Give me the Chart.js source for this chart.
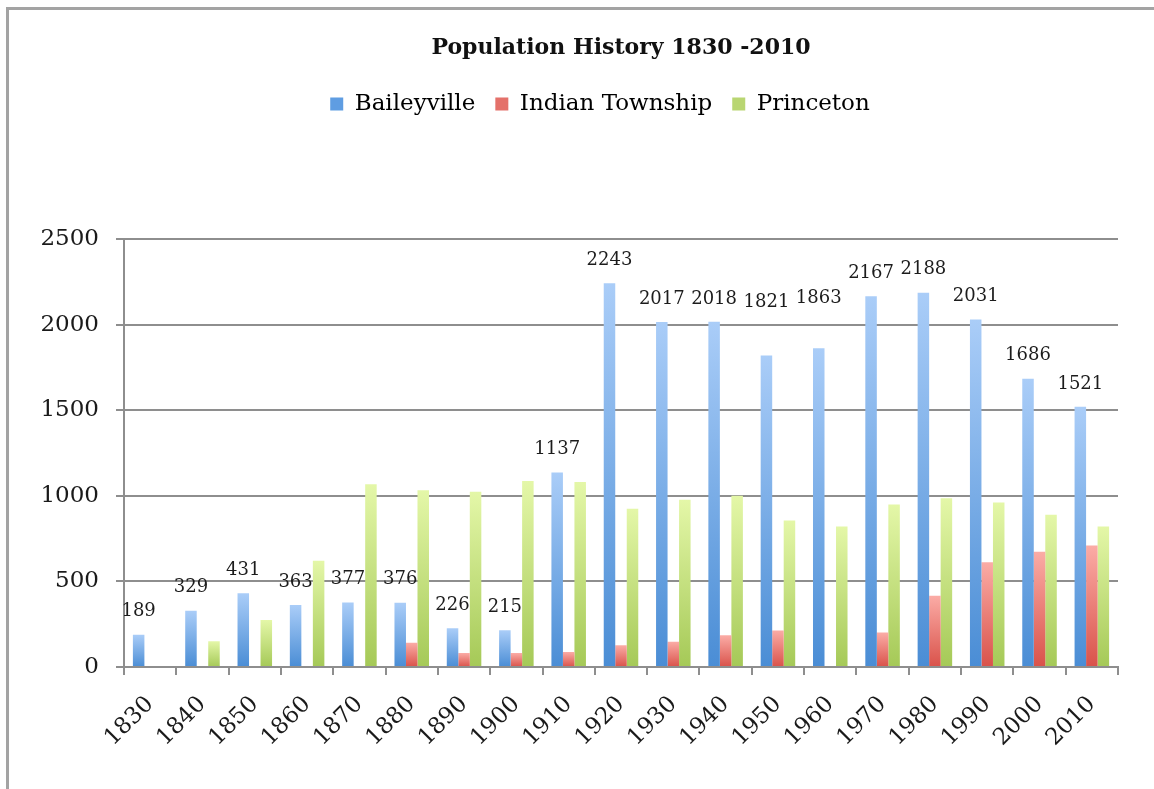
<!DOCTYPE html>
<html>
<head>
<meta charset="utf-8">
<script src="https://cdn.jsdelivr.net/npm/chart.js@4.4.1/dist/chart.umd.min.js"></script>
<style>
    html, body { margin: 0; padding: 0; background: #fff; }
    #wrap { position: relative; width: 1154px; height: 789px; overflow: hidden; }
    #frame {
        position: absolute; left: 6px; top: 7px; right: -4px; bottom: -4px;
        border-top: 3px solid #a3a3a3; border-left: 3px solid #a3a3a3;
        pointer-events: none;
    }
    canvas { position: absolute; left: 0; top: 0; }
</style>
</head>
<body>
<div id="wrap">
    <canvas id="chart" width="1154" height="789"></canvas>
    <div id="frame"></div>
</div>
<script>
// ─── Data ─────────────────────────────────────────────

const decades = ['1830', '1840', '1850', '1860', '1870', '1880', '1890', '1900', '1910', '1920',
                 '1930', '1940', '1950', '1960', '1970', '1980', '1990', '2000', '2010'];

const baileyville    = [189, 329, 431, 363, 377, 376, 226, 215, 1137, 2243,
                        2017, 2018, 1821, 1863, 2167, 2188, 2031, 1686, 1521];
const indianTownship = [null, null, null, null, null, 142, 82, 82, 88, 127,
                        148, 185, 214, null, 201, 417, 613, 674, 711];
const princeton      = [null, 150, 275, 621, 1069, 1034, 1024, 1088, 1082, 925,
                        978, 1001, 857, 822, 950, 987, 962, 890, 822];

const yTicks = [0, 500, 1000, 1500, 2000, 2500];

// ─── Helpers ──────────────────────────────────────────

const FONT = "'DejaVu Serif', serif";
const GRID = '#8e8e8e';

// the 1950 / 1960 labels sit higher than the rest in the original
const labelLift = { 12: 30, 13: 27 };

// each bar gets its own light-top / dark-bottom gradient
function barGradient(top, bottom) {
    return ctx => {
        const chart = ctx.chart;
        if (!chart.chartArea || ctx.type !== 'data' || ctx.raw == null) return bottom;
        const y = chart.scales.y;
        const yTop  = y.getPixelForValue(ctx.raw);
        const yBase = y.getPixelForValue(0);
        if (yBase - yTop < 1) return bottom;
        const g = chart.ctx.createLinearGradient(0, yTop, 0, yBase);
        g.addColorStop(0, top);
        g.addColorStop(1, bottom);
        return g;
    };
}

const legendColors = ['#5f9de2', '#e4716a', '#b9d672'];

// push the plot area down, leaving the empty band under the legend,
// and nudge the legend row so it is centred like the original
const legendSpacer = {
    id: 'legendSpacer',
    beforeInit(chart) {
        const fit = chart.legend.fit;
        chart.legend.fit = function () {
            fit.bind(chart.legend)();
            this.height += 114;
        };
    },
    afterLayout(chart) {
        chart.legend.left = 82;
    },
};

const barValueLabels = {
    id: 'barValueLabels',
    afterDatasetsDraw(chart) {
        const meta = chart.getDatasetMeta(0);
        const c = chart.ctx;
        c.save();
        c.font = `18px ${FONT}`;
        c.fillStyle = '#1c1c1c';
        c.textAlign = 'center';
        c.textBaseline = 'middle';
        meta.data.forEach((bar, i) => {
            c.fillText(String(baileyville[i]), bar.x, bar.y - 23 - (labelLift[i] || 0));
        });
        c.restore();
    },
};

// ─── Chart ────────────────────────────────────────────

new Chart(document.getElementById('chart').getContext('2d'), {
    type: 'bar',
    data: {
        labels: decades,
        datasets: [
            { label: 'Baileyville',     data: baileyville,    backgroundColor: barGradient('#aacdf8', '#4a8dd5') },
            { label: 'Indian Township', data: indianTownship, backgroundColor: barGradient('#fbaca6', '#d9524a') },
            { label: 'Princeton',       data: princeton,      backgroundColor: barGradient('#e4f7a8', '#a5c957') },
        ],
    },
    options: {
        responsive: false,
        animation: false,
        devicePixelRatio: 1,
        datasets: { bar: { categoryPercentage: 0.66, barPercentage: 1.0, borderWidth: 0 } },
        layout: { padding: { left: 0, right: 36, top: 0, bottom: 0 } },
        plugins: {
            title: {
                display: true,
                fullSize: false,
                text: 'Population History 1830 -2010',
                color: '#111',
                font: { family: FONT, size: 22, weight: 'bold' },
                padding: { top: 35, bottom: 11 },
            },
            legend: {
                display: true,
                fullSize: true,
                position: 'top',
                labels: {
                    color: '#1a1a1a',
                    font: { family: FONT, size: 23 },
                    boxWidth: 13,
                    boxHeight: 13,
                    padding: 20,
                    generateLabels: chart => chart.data.datasets.map((ds, i) => ({
                        text: ds.label,
                        fillStyle: legendColors[i],
                        strokeStyle: legendColors[i],
                        lineWidth: 0,
                        datasetIndex: i,
                        hidden: false,
                    })),
                },
            },
            tooltip: { enabled: false },
        },
        scales: {
            x: {
                grid: { display: true, drawOnChartArea: false, drawTicks: true, tickLength: 8, color: GRID, lineWidth: 2, offset: true },
                border: { display: true, color: GRID, width: 2 },
                ticks: {
                    color: '#1a1a1a',
                    font: { family: FONT, size: 23 },
                    minRotation: 45,
                    maxRotation: 45,
                    padding: 16,
                },
                afterFit: scale => { scale.height = 122; },
            },
            y: {
                min: 0,
                max: 2500,
                afterBuildTicks: scale => { scale.ticks = yTicks.map(v => ({ value: v })); },
                grid: { color: GRID, lineWidth: 2, tickLength: 8 },
                border: { display: true, color: GRID, width: 2 },
                ticks: {
                    color: '#1a1a1a',
                    font: { family: FONT, size: 23 },
                    padding: 17,
                    callback: v => String(v),
                },
                afterFit: scale => { scale.width = 124; },
            },
        },
    },
    plugins: [legendSpacer, barValueLabels],
});
</script>
</body>
</html>
